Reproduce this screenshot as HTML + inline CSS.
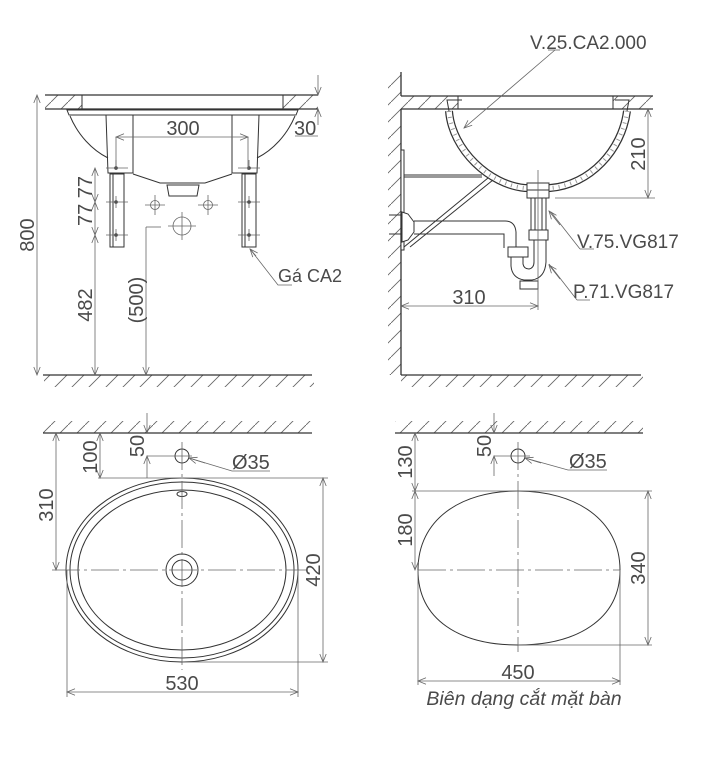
<!DOCTYPE html>
<html><head><meta charset="utf-8"><style>
html,body{margin:0;padding:0;background:#fff;}
svg{display:block;}
text{font-family:"Liberation Sans",sans-serif;fill:#4a4a4a;}
</style></head><body>
<svg width="710" height="774" viewBox="0 0 710 774" xmlns="http://www.w3.org/2000/svg">
<defs>
<pattern id="h" width="17" height="17" patternUnits="userSpaceOnUse">
<line x1="0" y1="17" x2="17" y2="0" stroke="#666" stroke-width="0.9"/>
</pattern>
<marker id="a" viewBox="0 0 10 10" refX="10" refY="5" markerWidth="10" markerHeight="8" orient="auto-start-reverse" markerUnits="userSpaceOnUse">
<path d="M0,1 L10,5 L0,9" fill="none" stroke="#666" stroke-width="1"/>
</marker>
</defs>

<!-- ============ TOP LEFT ============ -->
<g stroke="#333" fill="none" stroke-width="1">
<rect x="45" y="95" width="37" height="14" fill="url(#h)" stroke="none"/>
<rect x="283" y="95" width="35" height="14" fill="url(#h)" stroke="none"/>
<line x1="45" y1="95" x2="318" y2="95" stroke-width="1.3"/>
<line x1="45" y1="109" x2="318" y2="109" stroke-width="1.3"/>
<line x1="82" y1="95" x2="82" y2="109"/>
<line x1="283" y1="95" x2="283" y2="109"/>
<rect x="44" y="375" width="270" height="12" fill="url(#h)" stroke="none"/>
<line x1="43" y1="375" x2="312" y2="375" stroke-width="1.3"/>
<path d="M67,110 L298,110 L296,115 L69,115 Z"/>
<path d="M70,116 C78,135 92,150 108,158"/>
<path d="M295,116 C287,135 273,150 257,158"/>
<path d="M106,115 L108,173 L133,173 L133,115"/>
<path d="M259,115 L257,173 L232,173 L232,115"/>
<path d="M133,174 L160,183 L205,183 L232,174"/>
<path d="M167,185 L199,185 L197,196 L169,196 Z"/>
<rect x="110" y="174" width="14" height="73"/>
<rect x="242" y="174" width="14" height="73"/>
<line x1="113" y1="174" x2="113" y2="247"/>
<line x1="245" y1="174" x2="245" y2="247"/>
</g>
<g fill="#333">
<circle cx="116" cy="168" r="1.8"/><circle cx="116" cy="202" r="1.8"/><circle cx="116" cy="235" r="1.8"/>
<circle cx="249" cy="168" r="1.8"/><circle cx="249" cy="202" r="1.8"/><circle cx="249" cy="235" r="1.8"/>
</g>
<g stroke="#666" fill="none" stroke-width="0.8">
<path d="M106,168h22 M106,202h22 M106,235h22 M116,160v10 M116,196v12 M116,229v12"/>
<path d="M238,168h22 M238,202h22 M238,235h22 M249,160v10 M249,196v12 M249,229v12"/>
<circle cx="155" cy="205" r="4.5"/><path d="M145,205h20 M155,195v20"/>
<circle cx="208" cy="205" r="4.5"/><path d="M198,205h20 M208,195v20"/>
<circle cx="182" cy="226" r="9"/><path d="M168,226h28 M182,212v28"/>
<path d="M146,227h15"/>
<line x1="37" y1="95" x2="37" y2="375" marker-start="url(#a)" marker-end="url(#a)"/>
<line x1="116" y1="137" x2="248" y2="137" marker-start="url(#a)" marker-end="url(#a)"/>
<line x1="116" y1="137" x2="116" y2="170"/><line x1="248" y1="137" x2="248" y2="170"/>
<line x1="318" y1="75" x2="318" y2="95" marker-end="url(#a)"/>
<line x1="318" y1="125" x2="318" y2="109" marker-end="url(#a)"/>
<line x1="295" y1="136" x2="318" y2="136"/>
<line x1="95" y1="168" x2="95" y2="202" marker-start="url(#a)" marker-end="url(#a)"/>
<line x1="95" y1="202" x2="95" y2="235" marker-start="url(#a)" marker-end="url(#a)"/>
<line x1="95" y1="235" x2="95" y2="375" marker-start="url(#a)" marker-end="url(#a)"/>
<line x1="146" y1="227" x2="146" y2="375" marker-end="url(#a)"/>
<path d="M250,249 L278,285 L292,285"/>
<line x1="250" y1="249" x2="256" y2="256" marker-start="url(#a)"/>
</g>
<text x="34" y="235" font-size="20" transform="rotate(-90 34 235)" text-anchor="middle">800</text>
<text x="183" y="135" font-size="20" text-anchor="middle">300</text>
<text x="294" y="135" font-size="20">30</text>
<text x="92" y="201" font-size="20" transform="rotate(-90 92 201)" text-anchor="middle">77 77</text>
<text x="92" y="305" font-size="20" transform="rotate(-90 92 305)" text-anchor="middle">482</text>
<text x="143" y="300" font-size="20" transform="rotate(-90 143 300)" text-anchor="middle">(500)</text>
<text x="278" y="282" font-size="18">Gá CA2</text>

<!-- ============ TOP RIGHT ============ -->
<g stroke="#333" fill="none" stroke-width="1">
<rect x="388" y="72" width="13" height="303" fill="url(#h)" stroke="none"/>
<line x1="401" y1="72" x2="401" y2="96" stroke-width="1.3"/>
<line x1="401" y1="109" x2="401" y2="375" stroke-width="1.3"/>
<rect x="401" y="96" width="57" height="13" fill="url(#h)" stroke="none"/>
<rect x="613" y="96" width="40" height="13" fill="url(#h)" stroke="none"/>
<line x1="401" y1="96" x2="653" y2="96" stroke-width="1.3"/>
<line x1="401" y1="109" x2="653" y2="109" stroke-width="1.3"/>
<line x1="458" y1="96" x2="458" y2="109"/><line x1="613" y1="96" x2="613" y2="109"/>
<rect x="401" y="375" width="242" height="12" fill="url(#h)" stroke="none"/>
<line x1="401" y1="375" x2="641" y2="375" stroke-width="1.3"/>
<path d="M449,111 C452,150 490,185 525,188 L550,188 C590,185 622,150 627,111" stroke="#333" stroke-width="8"/>
<path d="M449,111 C452,150 490,185 525,188 L550,188 C590,185 622,150 627,111" stroke="#fff" stroke-width="5.5"/>
<path d="M449,111 C452,150 490,185 525,188 L550,188 C590,185 622,150 627,111" stroke="#999" stroke-width="4" stroke-dasharray="1 5"/>
<path d="M449,111 L447,100 L462,100"/><path d="M627,111 L629,100 L615,100"/>
<rect x="527" y="183" width="22" height="15" fill="#fff"/>
<line x1="527" y1="190" x2="549" y2="190"/>
<path d="M531,198 L531,232 M546,198 L546,232 M535,198 L535,232 M542,198 L542,232"/>
<rect x="529" y="230" width="19" height="10" fill="#fff"/>
<rect x="401" y="150" width="3" height="100" fill="#fff"/>
<line x1="404" y1="175" x2="482" y2="175"/>
<line x1="404" y1="177" x2="482" y2="177"/>
<line x1="404" y1="247" x2="488" y2="178"/>
<line x1="410" y1="247" x2="493" y2="180"/>
<path d="M389,215 L401,215 M389,234 L401,234"/>
<path d="M402,212 L408,214 L414,222 L414,232 L408,240 L402,242 Z" fill="#fff"/>
<path d="M414,221 L505,221 Q515,221 516,232 L516,248"/>
<path d="M414,234 L504,234 L504,248"/>
<rect x="508" y="247" width="20" height="10" fill="#fff"/>
<path d="M511,257 L511,266 Q512,278 524,280 L532,280 Q545,278 546,262 L546,240"/>
<path d="M523,257 L523,264 Q524,269 529,269 Q534,268 534,262 L534,240"/>
<rect x="520" y="281" width="18" height="8" fill="#fff"/>
</g>
<g stroke="#666" fill="none" stroke-width="0.8">
<line x1="538" y1="170" x2="538" y2="310"/>
<line x1="555" y1="198" x2="655" y2="198"/>
<line x1="648" y1="109" x2="648" y2="198" marker-start="url(#a)" marker-end="url(#a)"/>
<line x1="401" y1="306" x2="538" y2="306" marker-start="url(#a)" marker-end="url(#a)"/>
<path d="M555,50 L464,128" marker-end="url(#a)"/>
<path d="M548,50 L560,50"/>
<path d="M580,249 L551,212 M580,249 L594,249" />
<line x1="560" y1="225" x2="549" y2="211" marker-end="url(#a)"/>
<path d="M577,300 L549,264 M577,300 L590,300"/>
<line x1="560" y1="279" x2="549" y2="265" marker-end="url(#a)"/>
</g>
<text x="645" y="154" font-size="20" transform="rotate(-90 645 154)" text-anchor="middle">210</text>
<text x="469" y="304" font-size="20" text-anchor="middle">310</text>
<text x="530" y="49" font-size="19">V.25.CA2.000</text>
<text x="577" y="248" font-size="19">V.75.VG817</text>
<text x="573" y="298" font-size="19">P.71.VG817</text>

<!-- ============ BOTTOM LEFT ============ -->
<g stroke="#333" fill="none" stroke-width="1">
<rect x="43" y="421" width="270" height="12" fill="url(#h)" stroke="none"/>
<line x1="43" y1="433" x2="312" y2="433" stroke-width="1.3"/>
<ellipse cx="182" cy="570" rx="116" ry="92"/>
<ellipse cx="182" cy="570" rx="112" ry="88"/>
<ellipse cx="182" cy="570" rx="104" ry="80"/>
<circle cx="182" cy="570" r="16"/>
<circle cx="182" cy="570" r="10"/>
<ellipse cx="182" cy="494" rx="5" ry="2.5"/>
<circle cx="182" cy="456" r="7"/>
</g>
<g stroke="#666" fill="none" stroke-width="0.8">
<line x1="182" y1="442" x2="182" y2="670" stroke-dasharray="28 4 3 4"/>
<line x1="52" y1="570" x2="308" y2="570" stroke-dasharray="28 4 3 4"/>
<line x1="147" y1="456" x2="192" y2="456"/>
<line x1="98" y1="478" x2="328" y2="478"/>
<line x1="182" y1="662" x2="328" y2="662"/>
<line x1="56" y1="433" x2="56" y2="570" marker-start="url(#a)" marker-end="url(#a)"/>
<line x1="100" y1="433" x2="100" y2="478" marker-start="url(#a)" marker-end="url(#a)"/>
<line x1="147" y1="413" x2="147" y2="433" marker-end="url(#a)"/>
<line x1="147" y1="478" x2="147" y2="456" marker-end="url(#a)"/>
<line x1="323" y1="478" x2="323" y2="662" marker-start="url(#a)" marker-end="url(#a)"/>
<line x1="67" y1="570" x2="67" y2="697"/><line x1="298" y1="570" x2="298" y2="697"/>
<line x1="67" y1="692" x2="298" y2="692" marker-start="url(#a)" marker-end="url(#a)"/>
<path d="M189,458 L232,471 L270,471"/>
<line x1="205" y1="463" x2="189" y2="458" marker-end="url(#a)"/>
</g>
<text x="53" y="505" font-size="20" transform="rotate(-90 53 505)" text-anchor="middle">310</text>
<text x="97" y="457" font-size="20" transform="rotate(-90 97 457)" text-anchor="middle">100</text>
<text x="144" y="446" font-size="20" transform="rotate(-90 144 446)" text-anchor="middle">50</text>
<text x="320" y="570" font-size="20" transform="rotate(-90 320 570)" text-anchor="middle">420</text>
<text x="182" y="690" font-size="20" text-anchor="middle">530</text>
<text x="232" y="469" font-size="20">Ø35</text>

<!-- ============ BOTTOM RIGHT ============ -->
<g stroke="#333" fill="none" stroke-width="1">
<rect x="395" y="421" width="248" height="12" fill="url(#h)" stroke="none"/>
<line x1="395" y1="433" x2="643" y2="433" stroke-width="1.3"/>
<path d="M418,570 C418,520 460,491 518,491 C576,491 620,520 620,570 C620,620 576,645 518,645 C460,645 418,620 418,570 Z"/>
<circle cx="518" cy="456" r="7"/>
</g>
<g stroke="#666" fill="none" stroke-width="0.8">
<line x1="518" y1="442" x2="518" y2="652" stroke-dasharray="28 4 3 4"/>
<line x1="418" y1="570" x2="620" y2="570" stroke-dasharray="28 4 3 4"/>
<line x1="494" y1="456" x2="530" y2="456"/>
<line x1="412" y1="491" x2="652" y2="491"/>
<line x1="518" y1="645" x2="652" y2="645"/>
<line x1="415" y1="433" x2="415" y2="491" marker-start="url(#a)" marker-end="url(#a)"/>
<line x1="415" y1="491" x2="415" y2="570" marker-start="url(#a)" marker-end="url(#a)"/>
<line x1="494" y1="413" x2="494" y2="433" marker-end="url(#a)"/>
<line x1="494" y1="476" x2="494" y2="456" marker-end="url(#a)"/>
<line x1="648" y1="491" x2="648" y2="645" marker-start="url(#a)" marker-end="url(#a)"/>
<line x1="418" y1="570" x2="418" y2="685"/><line x1="620" y1="570" x2="620" y2="685"/>
<line x1="418" y1="681" x2="620" y2="681" marker-start="url(#a)" marker-end="url(#a)"/>
<path d="M525,458 L568,470 L607,470"/>
<line x1="541" y1="463" x2="525" y2="458" marker-end="url(#a)"/>
</g>
<text x="412" y="462" font-size="20" transform="rotate(-90 412 462)" text-anchor="middle">130</text>
<text x="412" y="530" font-size="20" transform="rotate(-90 412 530)" text-anchor="middle">180</text>
<text x="491" y="446" font-size="20" transform="rotate(-90 491 446)" text-anchor="middle">50</text>
<text x="645" y="568" font-size="20" transform="rotate(-90 645 568)" text-anchor="middle">340</text>
<text x="518" y="679" font-size="20" text-anchor="middle">450</text>
<text x="569" y="468" font-size="20">Ø35</text>
<text x="524" y="705" font-size="19.5" font-style="italic" text-anchor="middle">Biên dạng cắt mặt bàn</text>
</svg>
</body></html>
